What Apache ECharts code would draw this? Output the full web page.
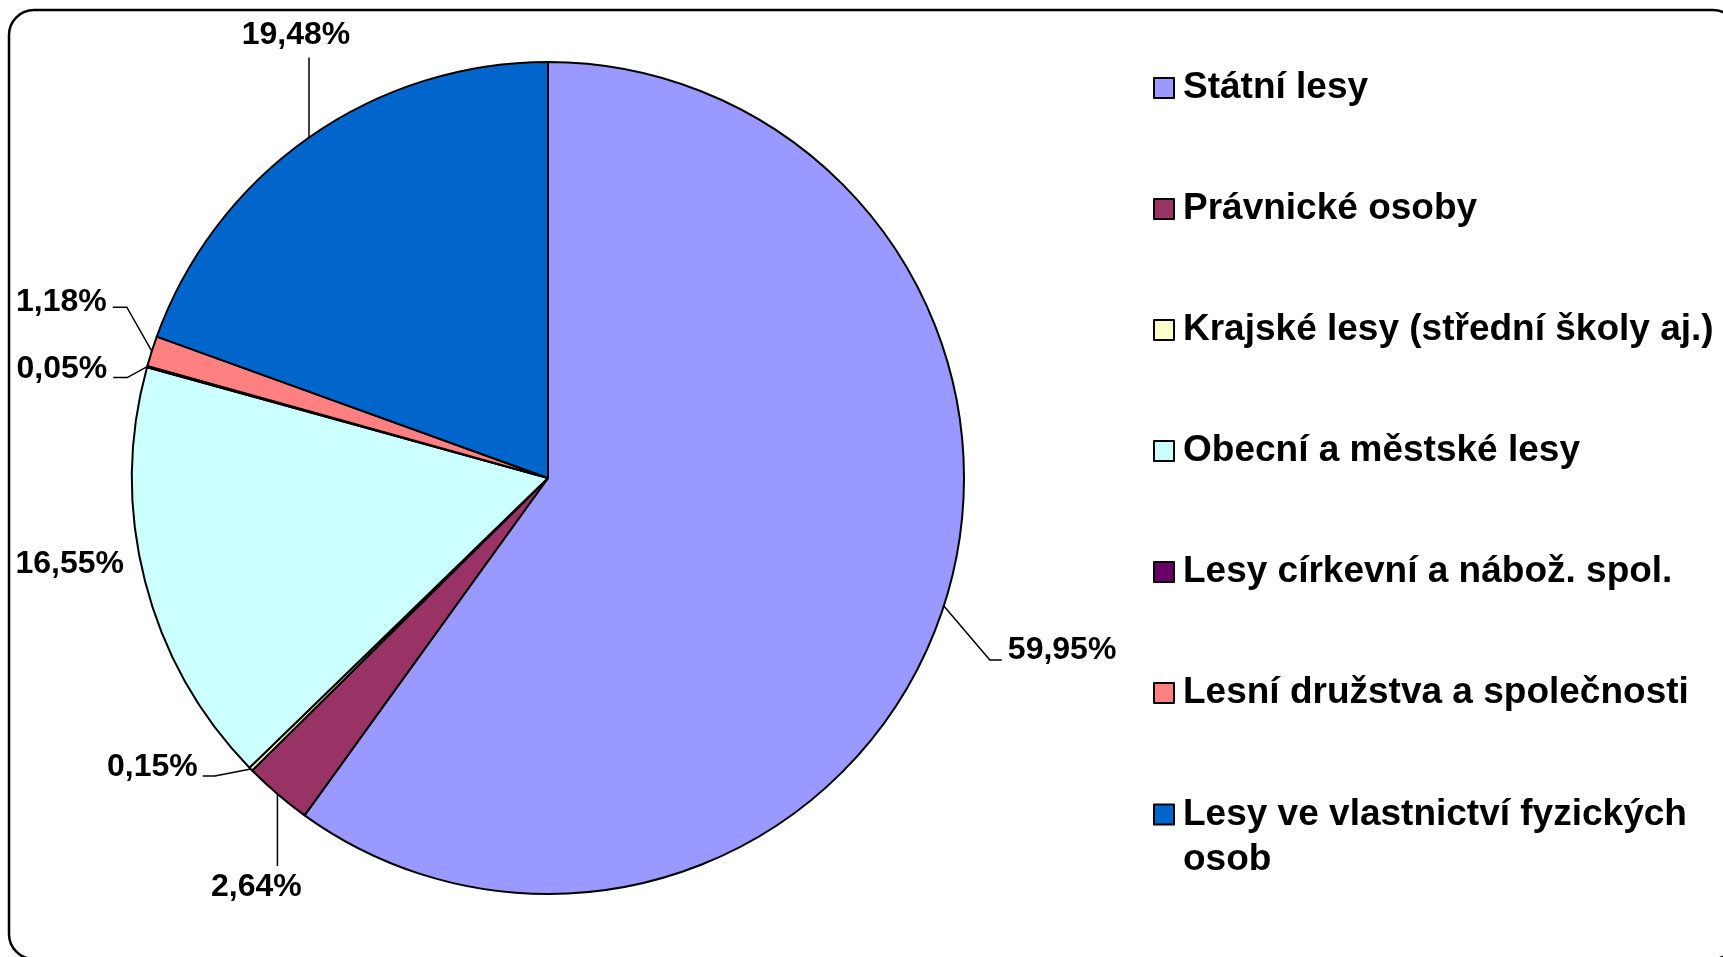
<!DOCTYPE html>
<html>
<head>
<meta charset="utf-8">
<title>Vlastnictví lesů</title>
<script src="https://cdn.jsdelivr.net/npm/echarts@6/dist/echarts.min.js"></script>
<style>
  html, body { margin: 0; padding: 0; background: #fff; }
  #chart { width: 1723px; height: 957px; }
</style>
</head>
<body>
<div id="chart"></div>
<script>
// kategorie vlastníků a podíly (%)
const owners = [
  'Státní lesy',
  'Právnické osoby',
  'Krajské lesy (střední školy aj.)',
  'Obecní a městské lesy',
  'Lesy církevní a nábož. spol.',
  'Lesní družstva a společnosti',
  'Lesy ve vlastnictví fyzických osob'
];
const shares = [59.95, 2.64, 0.15, 16.55, 0.05, 1.18, 19.48];
const colors = ['#9999FF', '#993366', '#FFFFCC', '#CCFFFF', '#660066', '#FF8080', '#0066CC'];

// umístění popisků vůči bodu na okraji výseče (odsazení v px)
const labelPlacement = [
  { line: [[46, 54], [58, 54]], text: [64, 44], align: 'left' },
  { line: [[0, 36], [0, 72]], text: [-21, 93], align: 'center' },
  { line: [[-36, 7], [-48, 7]], text: [-53, -2], align: 'right' },
  { line: [[0, 0], [0, 0]], text: [-21, -17], align: 'right' },
  { line: [[-20, 11], [-34, 11]], text: [-40, 3], align: 'right' },
  { line: [[-25, -44], [-39, -44]], text: [-45, -49], align: 'right' },
  { line: [[0, -40], [0, -80]], text: [-13, -102], align: 'center' }
];

const font = '"Liberation Sans", Arial, sans-serif';
const chart = echarts.init(document.getElementById('chart'));

const legendBase = {
  orient: 'vertical',
  left: 1153,
  padding: 0,
  itemWidth: 20,
  itemHeight: 20,
  icon: 'rect',
  selectedMode: false,
  itemStyle: { borderColor: '#000', borderWidth: 2 },
  textStyle: {
    fontFamily: font,
    fontSize: 37,
    fontWeight: 'bold',
    color: '#000',
    padding: [0, 0, 0, 4]
  }
};

chart.setOption({
  animation: false,
  color: colors,
  graphic: [{
    type: 'rect',
    silent: true,
    shape: { x: 9, y: 10, width: 1729, height: 949, r: 25 },
    style: { fill: 'none', stroke: '#000', lineWidth: 2.5 }
  }],
  legend: [
    Object.assign({}, legendBase, {
      top: 67,
      itemGap: 79,
      data: owners.slice(0, 6),
      textStyle: Object.assign({}, legendBase.textStyle, { lineHeight: 42 })
    }),
    Object.assign({}, legendBase, {
      top: 747,
      data: owners.slice(6),
      formatter: function (name) {
        return '\n' + name.replace(/ (osob)$/, '\n$1');
      },
      textStyle: Object.assign({}, legendBase.textStyle, { lineHeight: 45 })
    })
  ],
  series: [{
    type: 'pie',
    center: [548, 478],
    radius: 416,
    startAngle: 90,
    clockwise: true,
    avoidLabelOverlap: false,
    emphasis: { disabled: true },
    itemStyle: { borderColor: '#000', borderWidth: 2 },
    label: {
      show: true,
      position: 'outside',
      fontFamily: font,
      fontSize: 32,
      fontWeight: 'bold',
      color: '#000',
      formatter: function (p) {
        return p.value.toFixed(2).replace('.', ',') + '%';
      }
    },
    labelLine: {
      show: true,
      length: 20,
      length2: 10,
      lineStyle: { color: '#000', width: 1.5 }
    },
    labelLayout: function (params) {
      const pts = params.labelLinePoints;
      const a = pts[0];
      const p = labelPlacement[params.dataIndex];
      return {
        x: a[0] + p.text[0],
        y: a[1] + p.text[1],
        align: p.align,
        verticalAlign: 'middle',
        labelLinePoints: [a].concat(p.line.map(function (d) {
          return [a[0] + d[0], a[1] + d[1]];
        }))
      };
    },
    data: owners.map(function (name, i) {
      return { name: name, value: shares[i] };
    })
  }]
});
</script>
</body>
</html>
